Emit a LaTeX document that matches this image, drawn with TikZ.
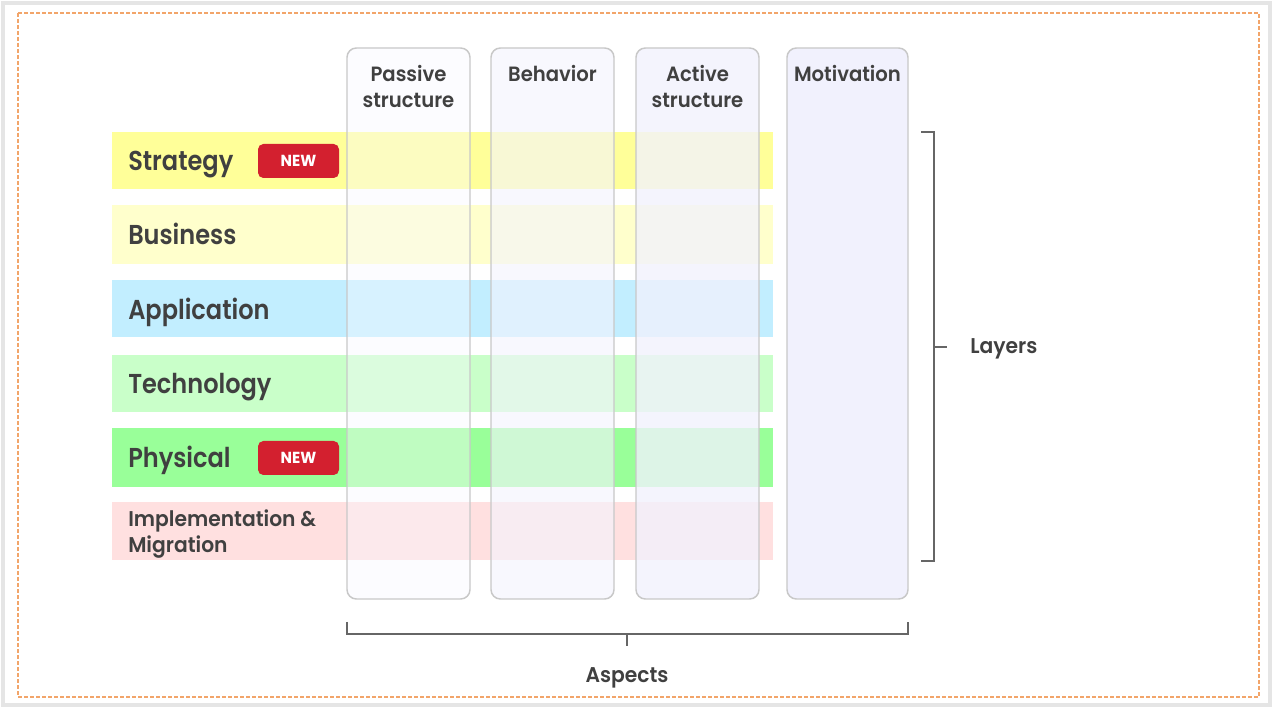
\documentclass[tikz,border=0pt]{standalone}
\usepackage{fontspec}
\setmainfont{Poppins}[BoldFont={Poppins SemiBold}]
\newfontfamily\rowfont{Poppins}[BoldFont={Poppins SemiBold},FakeStretch=0.88]
\newfontfamily\headfont{Poppins}[BoldFont={Poppins SemiBold},FakeStretch=0.95]
\newfontfamily\badgefont{Poppins}[BoldFont={Poppins Bold},FakeStretch=0.95]
\definecolor{txt}{HTML}{404040}
\definecolor{brk}{HTML}{666666}
\definecolor{dashc}{HTML}{F2A56A}
\definecolor{cStrat}{HTML}{FFFF99}
\definecolor{cBus}{HTML}{FFFFCC}
\definecolor{cApp}{HTML}{C2EEFF}
\definecolor{cTech}{HTML}{C9FFC9}
\definecolor{cPhys}{HTML}{99FF99}
\definecolor{cImpl}{HTML}{FFE0E0}
\definecolor{cPass}{HTML}{F8F8FF}
\definecolor{cBeh}{HTML}{F4F4FE}
\definecolor{cAct}{HTML}{F1F1FD}
\definecolor{cMot}{HTML}{F1F1FD}
\definecolor{cNew}{HTML}{D3202F}
\definecolor{colbd}{HTML}{C8C8C8}
\begin{document}
\begin{tikzpicture}[x=0.75pt,y=-0.75pt,
  band/.style={draw=none,inner sep=0pt,minimum width={661*0.75pt},minimum height={57*0.75pt}},
  colbox/.style={draw=colbd,line width=1.1pt,rounded corners=7pt,inner sep=0pt,minimum width={123*0.75pt},minimum height={551*0.75pt}},
  rowlab/.style={anchor=base west,text=txt,font=\rowfont\bfseries\fontsize{20.5}{24}\selectfont,inner sep=0pt},
  headlab/.style={anchor=base,text=txt,font=\headfont\bfseries\fontsize{15.5}{19.5}\selectfont,inner sep=0pt},
  newbadge/.style={fill=cNew,rounded corners=4pt,text=white,font=\badgefont\bfseries\fontsize{12}{13}\selectfont,minimum width={81*0.75pt},minimum height={34*0.75pt},inner sep=0pt},
  brack/.style={draw=brk,line width=1.1pt},
  axlab/.style={anchor=base,text=txt,font=\headfont\bfseries\fontsize{16}{18}\selectfont,inner sep=0pt}]
% frame
\useasboundingbox (0,0) rectangle (1282,712);
\fill[white] (0,0) rectangle (1282,712);
\draw[draw=black!10,line width=3pt] (3,3) rectangle (1270,705);
\draw[dashc,line width=1pt,dash pattern=on 3pt off 1.5pt] (18,13) rectangle (1259,697);
% bands
\node[band,fill=cStrat] (bStrat) at (442.5,160.5) {};
\node[band,fill=cBus,minimum height={59*0.75pt}] (bBus) at (442.5,234.5) {};
\node[band,fill=cApp] (bApp) at (442.5,308.5) {};
\node[band,fill=cTech] (bTech) at (442.5,383.5) {};
\node[band,fill=cPhys,minimum height={59*0.75pt}] (bPhys) at (442.5,457.5) {};
\node[band,fill=cImpl,minimum height={58*0.75pt}] (bImpl) at (442.5,531) {};
% columns
\node[colbox,fill=cPass,fill opacity=0.4] (cP) at (408.5,323.5) {};
\node[colbox,fill=cBeh,fill opacity=0.6] (cB) at (552.5,323.5) {};
\node[colbox,fill=cAct,fill opacity=0.78] (cA) at (697.5,323.5) {};
\node[colbox,fill=cMot,minimum width={121*0.75pt}] (cM) at (847.5,323.5) {};
% headers
\node[headlab] (hP1) at (408.5,82) {Passive};
\node[headlab] (hP2) at (408.5,108) {structure};
\node[headlab] (hB) at (552.5,82) {Behavior};
\node[headlab] (hA1) at (697.5,82) {Active};
\node[headlab] (hA2) at (697.5,108) {structure};
\node[headlab] (hM) at (847.5,82) {Motivation};
% row labels
\node[rowlab] (lStrat) at (128,171) {Strategy};
\node[newbadge] (nStrat) at (298.5,161) {NEW};
\node[rowlab] (lBus) at (128,245) {Business};
\node[rowlab] (lApp) at (128,320) {Application};
\node[rowlab] (lTech) at (128,394) {Technology};
\node[rowlab] (lPhys) at (128,468) {Physical};
\node[newbadge] (nPhys) at (298.5,458) {NEW};
\node[rowlab,font=\headfont\bfseries\fontsize{16}{19}\selectfont] (lImpl1) at (128,527) {Implementation \&};
\node[rowlab,font=\headfont\bfseries\fontsize{16}{19}\selectfont] (lImpl2) at (128,553) {Migration};
% layers bracket
\coordinate (lt) at (934,132);
\coordinate (lb) at (934,561);
\coordinate (lm) at (934,347);
\draw[brack] ([xshift=-9.5pt]lt) -- (lt) -- (lb) -- ([xshift=-9.5pt]lb);
\draw[brack] (lm) -- ([xshift=9.5pt]lm);
\node[axlab,anchor=base west] (layers) at (970,354) {Layers};
% aspects bracket
\coordinate (al) at (347,634);
\coordinate (ar) at (908,634);
\coordinate (am) at (627,634);
\draw[brack] ([yshift=9pt]al) -- (al) -- (ar) -- ([yshift=9pt]ar);
\draw[brack] (am) -- ([yshift=-9pt]am);
\node[axlab] (aspects) at (627,682) {Aspects};
\end{tikzpicture}
\end{document}
